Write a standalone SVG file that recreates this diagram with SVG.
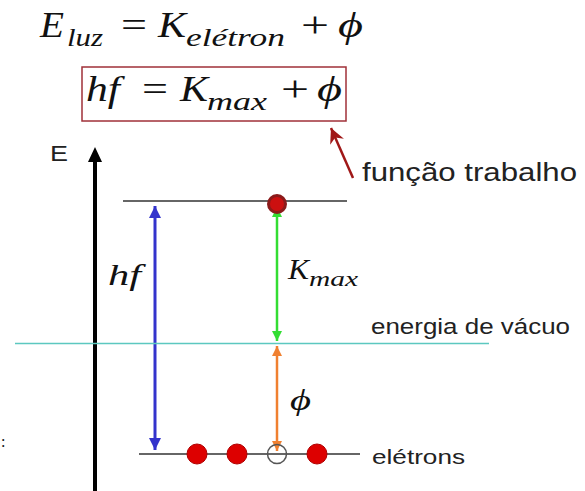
<svg xmlns="http://www.w3.org/2000/svg" width="585" height="491" viewBox="0 0 585 491">
<style>
.m{font-family:"Liberation Serif","DejaVu Serif",serif;fill:#111}
.i{font-style:italic}
.s{font-family:"Liberation Sans",Arial,sans-serif;fill:#222}
.lvl{stroke:#333;stroke-width:1.5}
.el{fill:#dd0000;stroke:#b00000;stroke-width:1}
</style>
<defs>
<marker id="hb" viewBox="0 0 10 10" refX="10" refY="5" markerWidth="4" markerHeight="4" orient="auto-start-reverse"><path d="M0,0L10,5L0,10Z" fill="#3333cc"/></marker>
<marker id="hg" viewBox="0 0 10 10" refX="10" refY="5" markerWidth="4" markerHeight="4" orient="auto-start-reverse"><path d="M0,0L10,5L0,10Z" fill="#33dd33"/></marker>
<marker id="ho" viewBox="0 0 10 10" refX="10" refY="5" markerWidth="4" markerHeight="4" orient="auto-start-reverse"><path d="M0,0L10,5L0,10Z" fill="#f08030"/></marker>
<marker id="hr" viewBox="0 0 10 10" refX="10" refY="5" markerWidth="6" markerHeight="6" orient="auto"><path d="M0,0L10,5L0,10L3,5Z" fill="#a01818"/></marker>
</defs>

<g id="eq1" class="m" font-size="36">
<text class="i" x="40" y="37" textLength="24" lengthAdjust="spacingAndGlyphs">E</text>
<text class="i" x="67" y="46" font-size="26" textLength="36" lengthAdjust="spacingAndGlyphs">luz</text>
<text x="121" y="37" textLength="26" lengthAdjust="spacingAndGlyphs">=</text>
<text class="i" x="158" y="37" textLength="28" lengthAdjust="spacingAndGlyphs">K</text>
<text class="i" x="186" y="46" font-size="26" textLength="99" lengthAdjust="spacingAndGlyphs">elétron</text>
<text x="301" y="37" textLength="28" lengthAdjust="spacingAndGlyphs">+</text>
<text class="i" x="338" y="37" textLength="25" lengthAdjust="spacingAndGlyphs">ϕ</text>
</g>

<g id="eq2" class="m" font-size="36">
<rect x="82" y="67" width="264" height="54" fill="none" stroke="#a03038" stroke-width="1.5"/>
<text class="i" x="86" y="101" textLength="34" lengthAdjust="spacingAndGlyphs">hf</text>
<text x="142" y="101" textLength="26" lengthAdjust="spacingAndGlyphs">=</text>
<text class="i" x="180" y="101" textLength="28" lengthAdjust="spacingAndGlyphs">K</text>
<text class="i" x="207" y="110" font-size="26" textLength="60" lengthAdjust="spacingAndGlyphs">max</text>
<text x="281" y="101" textLength="28" lengthAdjust="spacingAndGlyphs">+</text>
<text class="i" x="317" y="101" textLength="25" lengthAdjust="spacingAndGlyphs">ϕ</text>
</g>

<g id="connectors">
<line x1="353" y1="178" x2="331" y2="128" stroke="#a01818" stroke-width="2.5" marker-end="url(#hr)"/>
<line x1="95" y1="491" x2="95" y2="160" stroke="#000" stroke-width="4"/>
<path d="M95,147L102,162L88,162Z" fill="#000"/>
<line x1="155" y1="206" x2="155" y2="450" stroke="#3333cc" stroke-width="3" marker-start="url(#hb)" marker-end="url(#hb)"/>
<line x1="277" y1="207" x2="277" y2="341" stroke="#33dd33" stroke-width="2.5" marker-start="url(#hg)" marker-end="url(#hg)"/>
<line x1="277" y1="346" x2="277" y2="451" stroke="#f08030" stroke-width="2.5" marker-start="url(#ho)" marker-end="url(#ho)"/>
</g>

<g id="axis-label"><text class="s" x="50" y="161" font-size="22" textLength="18" lengthAdjust="spacingAndGlyphs">E</text></g>

<g id="top-level">
<line class="lvl" x1="123" y1="201" x2="347" y2="201"/>
<circle cx="277" cy="204" r="8.5" fill="#cc1010" stroke="#8b1a1a" stroke-width="3"/>
</g>

<g id="vacuum">
<line x1="15" y1="343.5" x2="489" y2="343.5" stroke="#5cc8c0" stroke-width="1.5"/>
<text class="s" x="371" y="334" font-size="22" textLength="199" lengthAdjust="spacingAndGlyphs">energia de vácuo</text>
</g>

<g id="bottom-level">
<line class="lvl" x1="139" y1="454" x2="360" y2="454"/>
<circle class="el" cx="197" cy="454" r="10"/>
<circle class="el" cx="237" cy="454" r="10"/>
<circle cx="277" cy="454" r="9.5" fill="none" stroke="#555" stroke-width="1.5"/>
<circle class="el" cx="317" cy="454" r="10"/>
<text class="s" x="372" y="464" font-size="21" textLength="93" lengthAdjust="spacingAndGlyphs">elétrons</text>
</g>

<g id="labels">
<text class="m i" x="108" y="285" font-size="30" textLength="33" lengthAdjust="spacingAndGlyphs">hf</text>
<text class="m i" x="288" y="279" font-size="30" textLength="21" lengthAdjust="spacingAndGlyphs">K</text>
<text class="m i" x="309" y="286" font-size="22" textLength="49" lengthAdjust="spacingAndGlyphs">max</text>
<text class="m i" x="290" y="410" font-size="30" textLength="21" lengthAdjust="spacingAndGlyphs">ϕ</text>
<text class="s" x="362" y="181" font-size="26" textLength="215" lengthAdjust="spacingAndGlyphs">função trabalho</text>
<text class="m" x="1" y="447" font-size="16">:</text>
</g>
</svg>
